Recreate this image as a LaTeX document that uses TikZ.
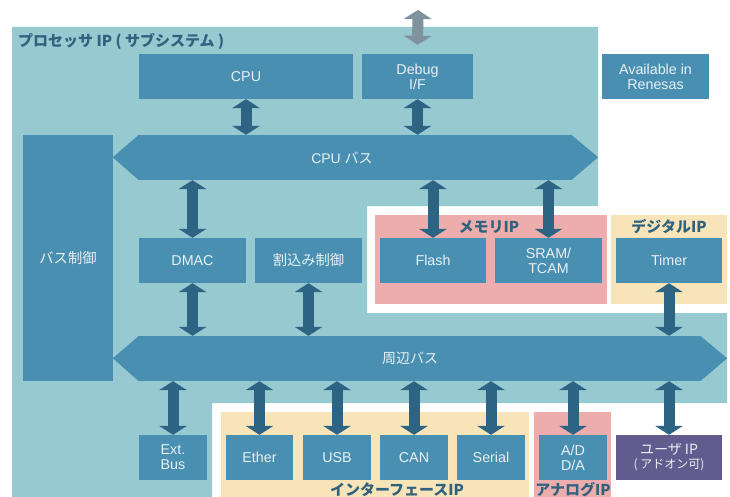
\documentclass[tikz,border=0pt]{standalone}
\usepackage{fontspec}
\setmainfont{Liberation Sans}
\newfontfamily\jp{Noto Sans CJK JP}
\usetikzlibrary{arrows.meta}
\definecolor{bgteal}{HTML}{97C9D1}
\definecolor{boxc}{HTML}{488FB1}
\definecolor{arrc}{HTML}{2E6483}
\definecolor{greyarr}{HTML}{7E939D}
\definecolor{memc}{HTML}{EDADAD}
\definecolor{digc}{HTML}{F8E4B9}
\definecolor{userc}{HTML}{625B8D}
\definecolor{ttlc}{HTML}{2F627D}
\definecolor{txtc}{HTML}{E9F1F5}
\begin{document}
\begin{tikzpicture}[x=1pt,y=-1pt,
    blk/.style={fill=boxc, text=txtc, font=\fontsize{14.3}{15}\selectfont, align=center, minimum height=45pt},
    busbody/.style={fill=boxc, minimum height=45pt},
    bustxt/.style={text=txtc, font=\fontsize{14}{15}\selectfont},
    ttl/.style={text=ttlc, font=\jp\bfseries\fontsize{15}{16}\selectfont},
    dbl/.style={arrc, line width=11pt, {Triangle[width=28pt,length=9pt,line width=0pt]}-{Triangle[width=28pt,length=9pt,line width=0pt]}}]
\tikzstyle{every node}+=[inner sep=0pt]
\useasboundingbox (0,0) rectangle (730,497);
% processor area
\fill [bgteal] (12,27) -- (598,27) -- (598,206) -- (367,206) -- (367,313) -- (727,313)
    -- (727,403) -- (212,403) -- (212,497) -- (12,497) -- cycle;
\node [ttl, anchor=west] (proc) at (18,41) {プロセッサ IP ( サブシステム )};
% IP groups
\fill [memc] (375,215) rectangle (607,304);
\fill [digc] (611,215) rectangle (727,304);
\fill [digc] (221,412) rectangle (529,497);
\fill [memc] (534,412) rectangle (611,497);
\node [ttl] (memttl) at (489,227) {メモリIP};
\node [ttl] (digttl) at (669,227) {デジタルIP};
\node [ttl] (ifttl) at (397,490) {インターフェースIP};
\node [ttl] (anattl) at (573,490) {アナログIP};
% blocks
\node [blk, minimum width=214pt] (cpu) at (246,76.5) {CPU};
\node [blk, minimum width=111pt] (debug) at (417.5,76.5) {Debug\\I/F};
\node [blk, minimum width=107pt] (avail) at (655.5,76.5) {Available in\\Renesas};
\node [blk, minimum width=90pt, minimum height=246pt] (busctl) at (68,258) {\jp バス制御};
\node [blk, minimum width=107pt] (dmac) at (192.5,260.5) {DMAC};
\node [blk, minimum width=107pt] (irq) at (308.5,260.5) {\jp 割込み制御};
\node [blk, minimum width=106pt] (flash) at (433,260.5) {Flash};
\node [blk, minimum width=107pt] (sram) at (548.5,260.5) {SRAM/\\TCAM};
\node [blk, minimum width=106pt] (timer) at (669,260.5) {Timer};
\node [blk, minimum width=68pt] (extbus) at (173,457.5) {Ext.\\Bus};
\node [blk, minimum width=67pt] (ether) at (259.5,457.5) {Ether};
\node [blk, minimum width=68pt] (usb) at (337,457.5) {USB};
\node [blk, minimum width=68pt] (can) at (414,457.5) {CAN};
\node [blk, minimum width=68pt] (serial) at (491,457.5) {Serial};
\node [blk, minimum width=68pt] (adda) at (573,457.5) {A/D\\D/A};
\node [blk, fill=userc, minimum width=106pt, font=\jp\fontsize{14}{15}\selectfont] (user) at (669,457.5)
    {ユーザ IP\\[-1pt]{\fontsize{12}{13}\selectfont ( アドオン可)}};
% buses
\node [busbody, minimum width=432pt] (cpubus) at (355,157.5) {};
\fill [boxc] (cpubus.north west) -- ++(-26,22.5) -- (cpubus.south west) -- cycle;
\fill [boxc] (cpubus.north east) -- ++(27,22.5) -- (cpubus.south east) -- cycle;
\node [bustxt] (cpubustxt) at (342,157.5) {CPU {\jp バス}};
\node [busbody, minimum width=561pt] (perbus) at (419.5,358.5) {};
\fill [boxc] (perbus.north west) -- ++(-26,22.5) -- (perbus.south west) -- cycle;
\fill [boxc] (perbus.north east) -- ++(27,22.5) -- (perbus.south east) -- cycle;
\node [bustxt, font=\jp\fontsize{14}{15}\selectfont] (perbustxt) at (410,358.5) {周辺バス};
% connections
\coordinate (dbgout) at (418,10);
\draw [dbl, greyarr] (dbgout) -- ([yshift=9pt]debug.north);
\draw [dbl] (cpu.south) -- (cpu.south |- cpubus.north);
\draw [dbl] (debug.south) -- (debug.south |- cpubus.north);
\draw [dbl] (cpubus.south -| dmac.north) -- (dmac.north);
\draw [dbl] (cpubus.south -| flash.north) -- (flash.north);
\draw [dbl] (cpubus.south -| sram.north) -- (sram.north);
\draw [dbl] (dmac.south) -- (dmac.south |- perbus.north);
\draw [dbl] (irq.south) -- (irq.south |- perbus.north);
\draw [dbl] (timer.south) -- (timer.south |- perbus.north);
\draw [dbl] (perbus.south -| extbus.north) -- (extbus.north);
\draw [dbl] (perbus.south -| ether.north) -- (ether.north);
\draw [dbl] (perbus.south -| usb.north) -- (usb.north);
\draw [dbl] (perbus.south -| can.north) -- (can.north);
\draw [dbl] (perbus.south -| serial.north) -- (serial.north);
\draw [dbl] (perbus.south -| adda.north) -- (adda.north);
\draw [dbl] (perbus.south -| user.north) -- (user.north);
\end{tikzpicture}
\end{document}
